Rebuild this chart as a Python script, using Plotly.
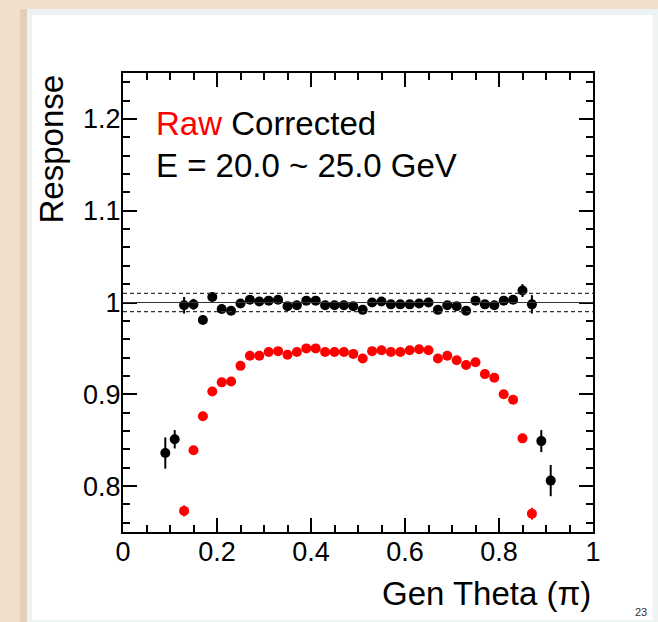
import plotly.graph_objects as go

# ---------------- data ----------------
theta_corr = [0.09, 0.11, 0.13, 0.15, 0.17, 0.19, 0.21, 0.23, 0.25, 0.27,
              0.29, 0.31, 0.33, 0.35, 0.37, 0.39, 0.41, 0.43, 0.45, 0.47,
              0.49, 0.51, 0.53, 0.55, 0.57, 0.59, 0.61, 0.63, 0.65, 0.67,
              0.69, 0.71, 0.73, 0.75, 0.77, 0.79, 0.81, 0.83, 0.85, 0.87,
              0.89, 0.91]
resp_corr = [0.836, 0.851, 0.997, 0.998, 0.981, 1.006, 0.993, 0.991, 0.999, 1.003,
             1.001, 1.002, 1.003, 0.996, 0.997, 1.002, 1.002, 0.997, 0.997, 0.997,
             0.996, 0.992, 1.000, 1.001, 0.998, 0.998, 0.998, 0.999, 1.000, 0.992,
             0.997, 0.996, 0.991, 1.002, 0.998, 0.997, 1.002, 1.003, 1.013, 0.998,
             0.849, 0.806]
err_corr = [0.017, 0.010, 0.009, 0.006, 0.004, 0.003, 0.003, 0.003, 0.003, 0.003,
            0.003, 0.003, 0.003, 0.003, 0.003, 0.003, 0.003, 0.003, 0.003, 0.003,
            0.003, 0.003, 0.003, 0.003, 0.003, 0.003, 0.003, 0.003, 0.003, 0.003,
            0.003, 0.003, 0.003, 0.003, 0.003, 0.003, 0.003, 0.004, 0.007, 0.010,
            0.012, 0.017]

theta_raw = [0.13, 0.15, 0.17, 0.19, 0.21, 0.23, 0.25, 0.27, 0.29, 0.31,
             0.33, 0.35, 0.37, 0.39, 0.41, 0.43, 0.45, 0.47, 0.49, 0.51,
             0.53, 0.55, 0.57, 0.59, 0.61, 0.63, 0.65, 0.67, 0.69, 0.71,
             0.73, 0.75, 0.77, 0.79, 0.81, 0.83, 0.85, 0.87]
resp_raw = [0.773, 0.839, 0.876, 0.903, 0.913, 0.914, 0.931, 0.942, 0.942, 0.946,
            0.947, 0.943, 0.946, 0.950, 0.950, 0.946, 0.946, 0.946, 0.944, 0.939,
            0.947, 0.948, 0.946, 0.946, 0.948, 0.949, 0.948, 0.939, 0.942, 0.937,
            0.932, 0.935, 0.922, 0.918, 0.900, 0.894, 0.852, 0.770]
err_raw = [0.006, 0.003, 0.002, 0.002, 0.002, 0.002, 0.002, 0.002, 0.002, 0.002,
           0.002, 0.002, 0.002, 0.002, 0.002, 0.002, 0.002, 0.002, 0.002, 0.002,
           0.002, 0.002, 0.002, 0.002, 0.002, 0.002, 0.002, 0.002, 0.002, 0.002,
           0.002, 0.002, 0.002, 0.002, 0.002, 0.002, 0.003, 0.0065]

ref_line = 1.0
band_lines = [0.99, 1.01]
x_range = [0.0, 1.0]
y_range = [0.75, 1.25]
x_ticks = [0, 0.2, 0.4, 0.6, 0.8, 1]
x_tick_text = ["0", "0.2", "0.4", "0.6", "0.8", "1"]
y_ticks = [0.8, 0.9, 1.0, 1.1, 1.2]
y_tick_text = ["0.8", "0.9", "1", "1.1", "1.2"]

# ---------------- layout geometry ----------------
W, H = 658, 622
L, R, T, B = 123, 65, 73, 90
PW, PH = W - L - R, H - T - B


def px(x):
    return (x - L) / PW


def py(y):
    return (H - B - y) / PH


FONT = "Liberation Sans, Arial, Helvetica, sans-serif"

fig = go.Figure()

fig.add_trace(go.Scatter(
    x=theta_raw, y=resp_raw, mode="markers", name="Raw",
    marker=dict(color="#ff0000", size=10),
    error_y=dict(type="data", array=err_raw, color="#ff0000", thickness=2, width=0),
    showlegend=False))

fig.add_trace(go.Scatter(
    x=theta_corr, y=resp_corr, mode="markers", name="Corrected",
    marker=dict(color="#000000", size=10),
    error_y=dict(type="data", array=err_corr, color="#000000", thickness=2, width=0),
    showlegend=False))

shapes = [
    # slide shadow, border and slide
    dict(type="rect", xref="paper", yref="paper", x0=px(20), x1=px(27),
         y0=py(626), y1=py(9), fillcolor="#e3cfb9", line=dict(width=0), layer="below"),
    dict(type="rect", xref="paper", yref="paper", x0=px(27), x1=px(662),
         y0=py(626), y1=py(9), fillcolor="#edf2f2", line=dict(width=0), layer="below"),
    dict(type="rect", xref="paper", yref="paper", x0=px(32), x1=px(652.7),
         y0=py(620), y1=py(15), fillcolor="#ffffff", line=dict(width=0), layer="below"),
    dict(type="line", xref="x", yref="y", x0=x_range[0], x1=x_range[1],
         y0=ref_line, y1=ref_line, line=dict(color="#333333", width=1.2)),
]
for b in band_lines:
    shapes.append(dict(type="line", xref="x", yref="y", x0=x_range[0], x1=x_range[1],
                       y0=b, y1=b, line=dict(color="#333333", width=1.2, dash="4px,3px")))

annotations = [
    dict(text='<span style="color:#ff0000">Raw</span> Corrected', xref="paper", yref="paper",
         x=px(154), y=py(123), xanchor="left", yanchor="middle", showarrow=False,
         font=dict(size=33, color="#000000", family=FONT)),
    dict(text="E = 20.0 ~ 25.0 GeV", xref="paper", yref="paper",
         x=px(154), y=py(166), xanchor="left", yanchor="middle", showarrow=False,
         font=dict(size=33, color="#000000", family=FONT)),
    dict(text="Response", xref="paper", yref="paper", textangle=-90,
         x=px(51), y=1.0, xanchor="center", yanchor="top", showarrow=False,
         font=dict(size=33, color="#000000", family=FONT)),
    dict(text="Gen Theta (π)", xref="paper", yref="paper",
         x=1.0, y=py(593), xanchor="right", yanchor="middle", showarrow=False,
         font=dict(size=33, color="#000000", family=FONT)),
    dict(text="23", xref="paper", yref="paper",
         x=px(649), y=py(612), xanchor="right", yanchor="middle", showarrow=False,
         font=dict(size=11, color="#333333", family=FONT)),
]

axis_common = dict(
    showgrid=False, zeroline=False, showline=True, linecolor="#000000", linewidth=2,
    mirror="ticks", ticks="inside", ticklen=14, tickwidth=1.5, tickcolor="#000000",
    tickfont=dict(size=27, color="#000000", family=FONT),
)

fig.update_xaxes(range=x_range, tickvals=x_ticks, ticktext=x_tick_text,
                 ticklabelstandoff=-5,
                 minor=dict(dtick=0.05, tick0=0, ticks="inside", ticklen=7, tickwidth=1.5,
                            tickcolor="#000000"),
                 **axis_common)
fig.update_yaxes(range=y_range, tickvals=y_ticks, ticktext=y_tick_text,
                 ticklabelstandoff=-5,
                 minor=dict(dtick=0.02, tick0=0.8, ticks="inside", ticklen=7, tickwidth=1.5,
                            tickcolor="#000000"),
                 **axis_common)

fig.update_layout(
    width=W, height=H, margin=dict(l=L, r=R, t=T, b=B, autoexpand=False),
    paper_bgcolor="#efdfcb", plot_bgcolor="#ffffff",
    shapes=shapes, annotations=annotations, showlegend=False,
    font=dict(family=FONT),
)

fig.write_html("out.html")
